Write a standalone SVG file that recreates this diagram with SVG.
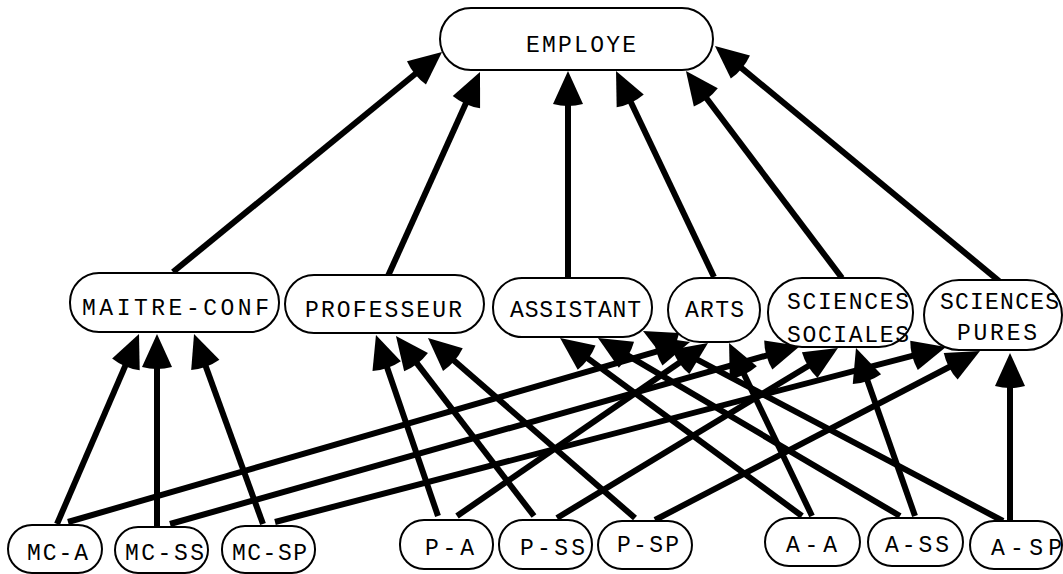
<svg xmlns="http://www.w3.org/2000/svg" width="1063" height="574" viewBox="0 0 1063 574">
<style>
.n rect{fill:#fff;stroke:#000;stroke-width:2}
.n text{font-family:"Liberation Mono","DejaVu Sans Mono",monospace;font-size:23px;fill:#000}
.e line{stroke:#000;stroke-width:6;marker-end:url(#ah)}
</style>
<defs>
<marker id="ah" markerUnits="userSpaceOnUse" markerWidth="40" markerHeight="40" refX="0" refY="0" orient="auto" overflow="visible">
<path d="M-7,-15 L26,0 L-7,15 Q-11,0 -7,-15 Z" fill="#000"/>
</marker>
</defs>
<rect width="1063" height="574" fill="#fff"/>
<g id="connectors" class="e">
<line x1="173" y1="272" x2="421.9" y2="68.5"/>
<line x1="388" y1="276" x2="469.3" y2="95.7"/>
<line x1="568" y1="278" x2="568" y2="97"/>
<line x1="714" y1="277" x2="627.2" y2="94.5"/>
<line x1="842" y1="278" x2="701.6" y2="91.8"/>
<line x1="999" y1="281" x2="735" y2="62.6"/>
<line x1="57" y1="524" x2="128.7" y2="357.9"/>
<line x1="157" y1="526" x2="157" y2="360"/>
<line x1="263" y1="524" x2="202.9" y2="358.4"/>
<line x1="438" y1="516" x2="384.4" y2="359.6"/>
<line x1="534" y1="516" x2="411.8" y2="356.6"/>
<line x1="635" y1="518" x2="447.6" y2="355.1"/>
<line x1="802" y1="516" x2="581" y2="353.4"/>
<line x1="900" y1="516" x2="620.4" y2="351.2"/>
<line x1="1003" y1="521" x2="666" y2="343.1"/>
<line x1="812" y1="516" x2="740.3" y2="366.4"/>
<line x1="68" y1="522" x2="665" y2="349.2"/>
<line x1="457" y1="516" x2="686.6" y2="357.8"/>
<line x1="170" y1="524" x2="775" y2="353.1"/>
<line x1="557" y1="518" x2="815.7" y2="361.5"/>
<line x1="915" y1="516" x2="864.6" y2="372.5"/>
<line x1="275" y1="522" x2="920.8" y2="353.6"/>
<line x1="655" y1="520" x2="956.9" y2="363"/>
<line x1="1010" y1="521" x2="1010" y2="379"/>
</g>
<g id="employe" class="n"><rect x="440" y="8" width="273" height="62" rx="31"/><text x="526" y="52" textLength="110" lengthAdjust="spacing">EMPLOYE</text></g>
<g id="maitre-conf" class="n"><rect x="70" y="273" width="209" height="59" rx="29"/><text x="82" y="315" textLength="187" lengthAdjust="spacing">MAITRE-CONF</text></g>
<g id="professeur" class="n"><rect x="285" y="275" width="199" height="58" rx="29"/><text x="305" y="317" textLength="157" lengthAdjust="spacing">PROFESSEUR</text></g>
<g id="assistant" class="n"><rect x="493" y="278" width="159" height="59" rx="29"/><text x="510" y="317" textLength="131" lengthAdjust="spacing">ASSISTANT</text></g>
<g id="arts" class="n"><rect x="668" y="278" width="92" height="64" rx="32"/><text x="685" y="317" textLength="59" lengthAdjust="spacing">ARTS</text></g>
<g id="sciences-sociales" class="n"><rect x="768" y="278" width="145" height="69" rx="34"/><text x="787" y="309" textLength="122" lengthAdjust="spacing">SCIENCES</text><text x="787" y="342" textLength="122" lengthAdjust="spacing">SOCIALES</text></g>
<g id="sciences-pures" class="n"><rect x="924" y="280" width="138" height="70" rx="35"/><text x="940" y="309" textLength="119" lengthAdjust="spacing">SCIENCES</text><text x="957" y="340" textLength="80" lengthAdjust="spacing">PURES</text></g>
<g id="mc-a" class="n"><rect x="8" y="525" width="94" height="48" rx="24"/><text x="27" y="560" textLength="61" lengthAdjust="spacing">MC-A</text></g>
<g id="mc-ss" class="n"><rect x="115" y="527" width="93" height="46" rx="23"/><text x="125" y="560" textLength="79" lengthAdjust="spacing">MC-SS</text></g>
<g id="mc-sp" class="n"><rect x="222" y="526" width="93" height="47" rx="23"/><text x="232" y="560" textLength="75" lengthAdjust="spacing">MC-SP</text></g>
<g id="p-a" class="n"><rect x="400" y="520" width="93" height="49" rx="24"/><text x="425" y="555" textLength="49" lengthAdjust="spacing">P-A</text></g>
<g id="p-ss" class="n"><rect x="499" y="520" width="93" height="49" rx="24"/><text x="520" y="555" textLength="65" lengthAdjust="spacing">P-SS</text></g>
<g id="p-sp" class="n"><rect x="598" y="521" width="94" height="48" rx="24"/><text x="617" y="552" textLength="62" lengthAdjust="spacing">P-SP</text></g>
<g id="a-a" class="n"><rect x="765" y="518" width="95" height="48" rx="24"/><text x="786" y="552" textLength="51" lengthAdjust="spacing">A-A</text></g>
<g id="a-ss" class="n"><rect x="868" y="518" width="95" height="48" rx="24"/><text x="885" y="552" textLength="64" lengthAdjust="spacing">A-SS</text></g>
<g id="a-sp" class="n"><rect x="970" y="521" width="92" height="48" rx="24"/><text x="991" y="555" textLength="71" lengthAdjust="spacing">A-SP</text></g>
</svg>
